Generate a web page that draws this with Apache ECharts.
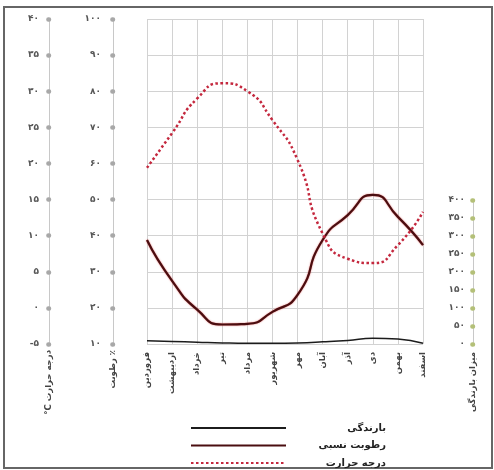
<!DOCTYPE html>
<html>
<head>
<meta charset="utf-8">
<script src="https://cdn.jsdelivr.net/npm/echarts@6/dist/echarts.min.js"></script>
<style>html,body{margin:0;padding:0;background:#fff}#c{width:494px;height:470px}</style>
</head>
<body>
<div id="c"></div>
<script>
const months = ['فروردین','اردیبهشت','خرداد','تیر','مرداد','شهریور','مهر','آبان','آذر','دی','بهمن','اسفند'];
const temperature = [19.4, 24.2, 29.0, 31.1, 30.0, 26.0, 20.5, 10.3, 6.8, 6.2, 8.7, 13.3];
const humidity = [38.8, 27.5, 19.5, 15.4, 15.6, 18.9, 23.6, 38.8, 45.7, 51.3, 45.2, 37.4];
const precipitation = [9, 7, 5, 3, 2, 2, 3, 6, 10, 16, 14, 2];

const tempTickValues = [-5, 0, 5, 10, 15, 20, 25, 30, 35, 40];
const tempTickLabels = ['-۵', '۰', '۵', '۱۰', '۱۵', '۲۰', '۲۵', '۳۰', '۳۵', '۴۰'];
const humTickValues = [10, 20, 30, 40, 50, 60, 70, 80, 90, 100];
const humTickLabels = ['۱۰', '۲۰', '۳۰', '۴۰', '۵۰', '۶۰', '۷۰', '۸۰', '۹۰', '۱۰۰'];
const precTickValues = [0, 50, 100, 150, 200, 250, 300, 350, 400];
const precTickLabels = ['۰', '۵۰', '۱۰۰', '۱۵۰', '۲۰۰', '۲۵۰', '۳۰۰', '۳۵۰', '۴۰۰'];

const seriesNames = ['بارندگی', 'رطوبت نسبی', 'درجه حرارت'];
const axisNames = ['°C درجه حرارت', 'رطوبت ٪', 'میزان بارندگی'];

const FONT = 'DejaVu Sans';
function lab(vals, labels) { return v => { const i = vals.indexOf(v); return i >= 0 ? labels[i] : ''; }; }

const dotTick = { show: true, length: 0.6, lineStyle: { width: 4.5, color: '#a8a8a8', cap: 'round' } };
const axLabel = (f, m) => ({ formatter: f, fontSize: 9, color: '#555', fontWeight: 'bold', fontFamily: FONT, margin: m });
const nameStyle = { fontSize: 8.5, color: '#444', fontWeight: 'bold', fontFamily: FONT };

const chart = echarts.init(document.getElementById('c'), null, { renderer: 'canvas' });
chart.setOption({
  animation: false,
  backgroundColor: '#fff',
  graphic: [{
    type: 'rect', shape: { x: 4, y: 7, width: 488, height: 461 },
    style: { fill: 'none', stroke: '#666', lineWidth: 2 }, silent: true
  }],
  grid: [
    { left: 147, right: 71, top: 19, bottom: 126 },
    { left: 147, right: 71, top: 200, bottom: 126 }
  ],
  xAxis: [
    {
      gridIndex: 0, type: 'category', data: months, boundaryGap: false,
      axisLine: { show: false }, axisTick: { show: false },
      splitLine: { show: true, lineStyle: { color: '#d2d2d2', width: 1 } },
      axisLabel: { rotate: 90, fontSize: 8.5, color: '#444', fontWeight: 'bold', fontFamily: FONT, margin: 8, interval: 0 }
    },
    {
      gridIndex: 1, type: 'category', data: months, boundaryGap: false, show: false
    }
  ],
  yAxis: [
    {
      gridIndex: 0, type: 'value', position: 'left', offset: 98,
      min: -5, max: 40, interval: 5,
      axisLine: { show: true, lineStyle: { color: '#c8c8c8' } },
      axisTick: dotTick,
      axisLabel: axLabel(lab(tempTickValues, tempTickLabels), 10),
      splitLine: { show: true, lineStyle: { color: '#d2d2d2', width: 1 } },
      name: axisNames[0], nameLocation: 'start', nameRotate: 90, nameGap: 6, nameTextStyle: nameStyle
    },
    {
      gridIndex: 0, type: 'value', position: 'left', offset: 34,
      min: 10, max: 100, interval: 10,
      axisLine: { show: true, lineStyle: { color: '#c8c8c8' } },
      axisTick: dotTick,
      axisLabel: axLabel(lab(humTickValues, humTickLabels), 12),
      splitLine: { show: false },
      name: axisNames[1], nameLocation: 'start', nameRotate: 90, nameGap: 6, nameTextStyle: nameStyle
    },
    {
      gridIndex: 1, type: 'value', position: 'right', offset: 50,
      min: 0, max: 400, interval: 50,
      axisLine: { show: true, lineStyle: { color: '#c8c8c8' } },
      axisTick: { show: true, inside: true, length: 0.6, lineStyle: { width: 4.5, color: '#b4c078', cap: 'round' } },
      axisLabel: Object.assign(axLabel(lab(precTickValues, precTickLabels), 8), { inside: true }),
      splitLine: { show: false },
      name: axisNames[2], nameLocation: 'start', nameRotate: 90, nameGap: 8, nameTextStyle: nameStyle
    }
  ],
  legend: {
    orient: 'vertical', left: 190, top: 422, padding: 0,
    itemWidth: 95, itemHeight: 12, itemGap: 5.5,
    data: seriesNames,
    itemStyle: { opacity: 0 },
    formatter: n => '{a|' + n + '}',
    textStyle: { rich: { a: { width: 95, height: 12, lineHeight: 12, align: 'right', fontSize: 10, fontWeight: 'bold', color: '#222', fontFamily: FONT } } },
    selectedMode: false
  },
  series: [
    {
      name: seriesNames[0], type: 'line', xAxisIndex: 1, yAxisIndex: 2, data: precipitation,
      smooth: true, symbol: 'none', lineStyle: { color: '#1c1c1c', width: 1.5 }, itemStyle: { color: '#1c1c1c' }
    },
    {
      name: seriesNames[1], type: 'line', xAxisIndex: 0, yAxisIndex: 1, data: humidity,
      smooth: 0.6, symbol: 'none',
      lineStyle: { color: '#4a0e10', width: 2.2, shadowColor: 'rgba(210,30,30,0.7)', shadowBlur: 1.5 },
      itemStyle: { color: '#4a0e10' }
    },
    {
      name: seriesNames[2], type: 'line', xAxisIndex: 0, yAxisIndex: 0, data: temperature,
      smooth: 0.6, symbol: 'none',
      lineStyle: { color: '#c4283e', width: 2.5, type: [2.5, 2.5] },
      itemStyle: { color: '#c4283e' }
    }
  ]
});
</script>
</body>
</html>
